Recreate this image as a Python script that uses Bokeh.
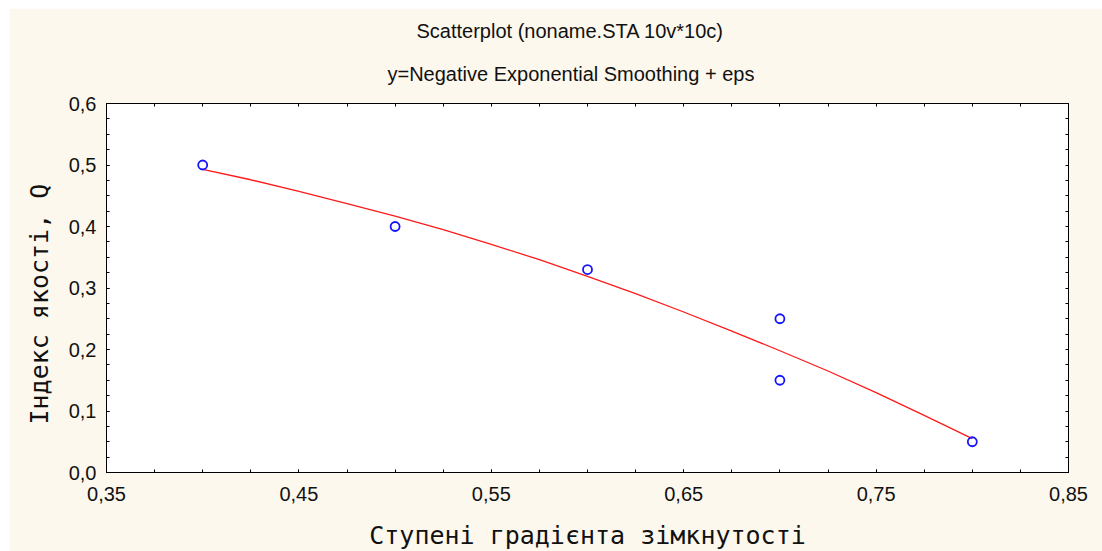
from bokeh.plotting import figure
from bokeh.models import (LinearAxis, FixedTicker, CustomJSTickFormatter, Title,
                          Range1d, ColumnDataSource)
from bokeh.embed import file_html
from bokeh.resources import INLINE

# Observed cases
closure_gradient = [0.4, 0.5, 0.6, 0.7, 0.7, 0.8]
quality_index = [0.50, 0.40, 0.33, 0.25, 0.15, 0.05]

# Negative exponential smoothing curve
fit_x = [0.400, 0.425, 0.450, 0.475, 0.500, 0.525, 0.550, 0.575, 0.600,
         0.625, 0.650, 0.675, 0.700, 0.725, 0.750, 0.775, 0.800]
fit_y = [0.493, 0.476, 0.457, 0.437, 0.417, 0.395, 0.371, 0.346, 0.319,
         0.291, 0.261, 0.230, 0.198, 0.165, 0.130, 0.093, 0.055]

# Axis ticks
x_ticks = [0.35, 0.45, 0.55, 0.65, 0.75, 0.85]
y_ticks = [0.0, 0.1, 0.2, 0.3, 0.4, 0.5, 0.6]
x_minor = [round(0.35 + 0.025 * i, 3) for i in range(21)]
y_minor = [round(0.025 * i, 3) for i in range(25)]

title_line1 = "Scatterplot (noname.STA 10v*10c)"
title_line2 = "y=Negative Exponential Smoothing + eps"
x_label = "Ступені градієнта зімкнутості"
y_label = "Індекс якості, Q"

CREAM = "#fdf8ee"
TICK_FONT = "Liberation Sans"
LABEL_FONT = "DejaVu Sans Mono"

p = figure(width=1093, height=547, margin=(8, 0, 0, 9),
           output_backend="svg", toolbar_location=None, title=None,
           x_range=Range1d(0.35, 0.85), y_range=Range1d(0.0, 0.6),
           x_axis_type=None, y_axis_type=None,
           min_border_left=97, min_border_right=34,
           min_border_top=95, min_border_bottom=83)
p.border_fill_color = CREAM
p.background_fill_color = "white"
p.outline_line_color = "black"
p.outline_line_width = 1

x_fmt = CustomJSTickFormatter(code="return tick.toFixed(2).replace('.', ',')")
y_fmt = CustomJSTickFormatter(code="return tick.toFixed(1).replace('.', ',')")


def style_axis(ax):
    ax.axis_line_color = "black"
    ax.major_tick_in = 3
    ax.major_tick_out = 0
    ax.minor_tick_in = 3
    ax.minor_tick_out = 0
    ax.major_tick_line_color = "black"
    ax.minor_tick_line_color = "black"
    ax.major_label_text_font = TICK_FONT
    ax.major_label_text_font_size = "20px"
    ax.major_label_text_color = "#111111"
    ax.axis_label_text_font = LABEL_FONT
    ax.axis_label_text_font_size = "25px"
    ax.axis_label_text_font_style = "normal"
    ax.axis_label_text_color = "#111111"


xt = FixedTicker(ticks=x_ticks, minor_ticks=x_minor)
yt = FixedTicker(ticks=y_ticks, minor_ticks=y_minor)

bottom = LinearAxis(ticker=xt, formatter=x_fmt, axis_label=x_label)
style_axis(bottom)
bottom.major_label_standoff = 14
bottom.axis_label_standoff = 17
p.add_layout(bottom, "below")

left = LinearAxis(ticker=yt, formatter=y_fmt)
style_axis(left)
left.major_label_standoff = 10
p.add_layout(left, "left")

# Mirrored tick marks on the top and right edges (no labels)
top = LinearAxis(ticker=FixedTicker(ticks=[], minor_ticks=x_minor))
style_axis(top)
p.add_layout(top, "above")

right = LinearAxis(ticker=FixedTicker(ticks=[], minor_ticks=y_minor))
style_axis(right)
p.add_layout(right, "right")

# Vertical axis title, placed as a side title so it can sit below centre
ytitle = Title(text=y_label, align="left", offset=48,
               text_font=LABEL_FONT, text_font_size="25px",
               text_font_style="normal", text_color="#111111", standoff=24)
p.add_layout(ytitle, "left")

p.xgrid.ticker = xt
p.ygrid.ticker = yt
for g in (p.xgrid, p.ygrid):
    g.grid_line_color = "#c8c8c8"
    g.grid_line_dash = "1 3"
    g.grid_line_width = 1

# Two-line heading (second line nearest the frame)
for txt, off, so in ((title_line2, 281, 38), (title_line1, 310, 0)):
    t = Title(text=txt, align="left", offset=off,
              text_font=TICK_FONT, text_font_size="20px",
              text_font_style="normal", text_color="#111111", standoff=so)
    p.add_layout(t, "above")

fit_src = ColumnDataSource(dict(x=fit_x, y=fit_y))
p.line("x", "y", source=fit_src, line_color="#ff1a1a", line_width=1.3)

pts = ColumnDataSource(dict(x=closure_gradient, y=quality_index))
p.scatter("x", "y", source=pts, marker="circle", size=9,
          fill_color=None, line_color="#1414ff", line_width=1.8)

open("out.html", "w").write(file_html(p, INLINE))
